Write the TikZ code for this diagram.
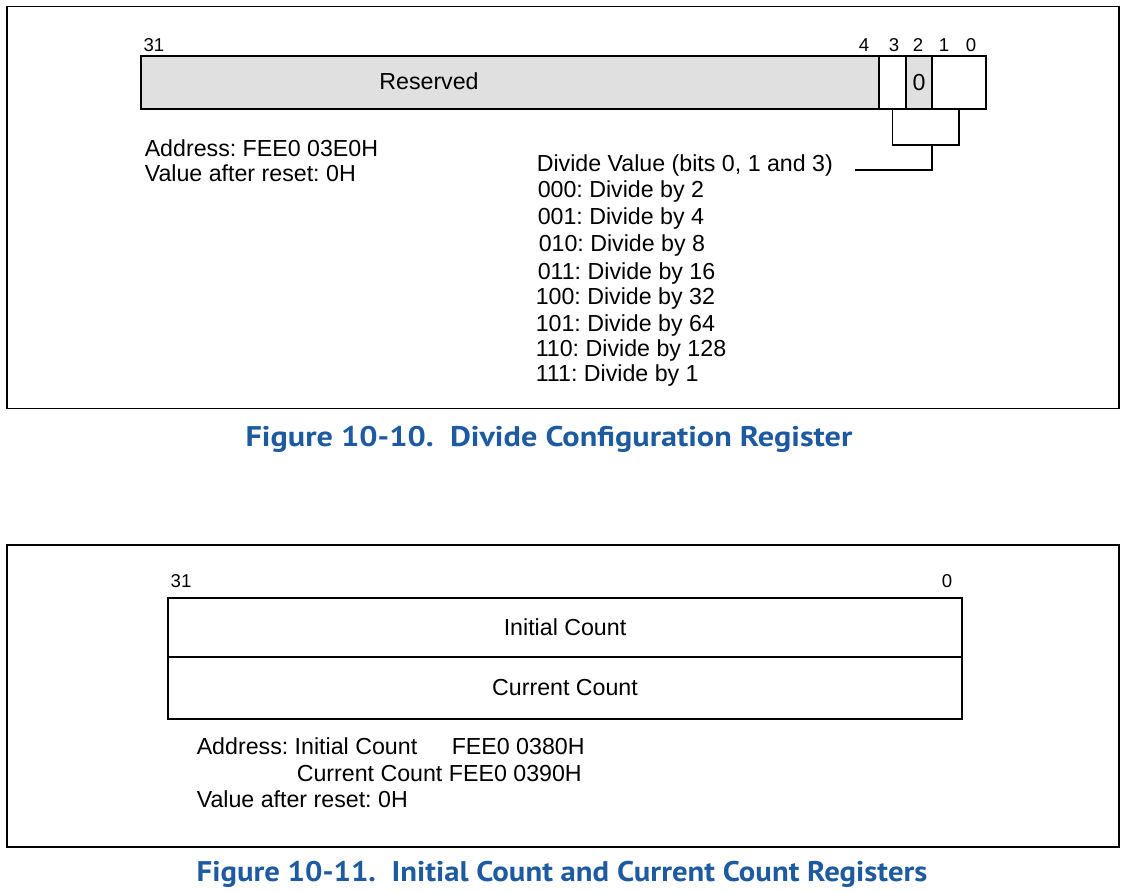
\documentclass[tikz,border=0pt]{standalone}
\usepackage{fontspec}
\setmainfont{Liberation Sans}
\newfontfamily\capfont{PT Sans}
\definecolor{capblue}{HTML}{1D5AA0}
\definecolor{resgray}{HTML}{E0E0E0}
\frenchspacing
\begin{document}
\begin{tikzpicture}[x=0.5pt,y=-0.5pt,
  line width=0.75pt,
  frame/.style={draw, line width=0.75pt},
  field/.style={draw, anchor=north west, inner sep=0pt, outer sep=0pt, font=\fontsize{11.6}{13}\selectfont},
  bitnum/.style={anchor=base, inner sep=0pt, font=\fontsize{9.3}{11}\selectfont},
  txt/.style={anchor=base west, inner sep=0pt, font=\fontsize{11.6}{13}\selectfont},
  caption/.style={anchor=base, inner sep=0pt, text=capblue, font=\capfont\bfseries\fontsize{14.2}{16}\selectfont}
]
\useasboundingbox (0,0) rectangle (1128,892);
% ---------- Figure 10-10 ----------
\node[frame, anchor=north west, minimum width=556pt, minimum height=201pt, inner sep=0pt] (box1) at (6,6) {};
\node[field, fill=resgray, minimum width=369pt, minimum height=26.5pt] (res) at (141,56) {};
\node[txt, anchor=base] (resl) at (429,90) {Reserved};
\node[field, minimum width=13.5pt, minimum height=26.5pt] (b3) at (879,56) {};
\node[field, fill=resgray, minimum width=13pt, minimum height=26.5pt] (b2) at (906,56) {0};
\node[field, minimum width=27pt, minimum height=26.5pt] (b10) at (932,56) {};
\node[bitnum] (n31) at (154,52) {31};
\node[bitnum] (n4) at (864,52) {4};
\node[bitnum] (n3) at (894,52) {3};
\node[bitnum] (n2) at (918,52) {2};
\node[bitnum] (n1) at (944,52) {1};
\node[bitnum] (n0) at (971,52) {0};
\coordinate (brL) at (893,145);
\coordinate (brR) at (960,145);
\coordinate (brM) at (932,145);
\coordinate (brEnd) at (855,170);
\draw (b3.south) -- (b3.south |- brL) -- (b10.south |- brR) -- (b10.south);
\draw (brM) |- (brEnd);
\node[txt] (addr1) at (144,157) {Address: FEE0 03E0H};
\node[txt] (reset1) at (144,182) {Value after reset: 0H};
\node[txt] (dv) at (536,172) {Divide Value (bits 0, 1 and 3)};
\node[txt] (d0) at (537,198) {000: Divide by 2};
\node[txt] (d1) at (537,225) {001: Divide by 4};
\node[txt] (d2) at (538,252) {010: Divide by 8};
\node[txt] (d3) at (537,280) {011: Divide by 16};
\node[txt] (d4) at (535,305) {100: Divide by 32};
\node[txt] (d5) at (535,332) {101: Divide by 64};
\node[txt] (d6) at (535,357) {110: Divide by 128};
\node[txt] (d7) at (535,382) {111: Divide by 1};
\node[caption] (cap1) at (549,446) {\scalebox{1.135}[1]{Figure 10-10.\ \ Divide Configuration Register}};
% ---------- Figure 10-11 ----------
\node[frame, anchor=north west, minimum width=556pt, minimum height=151pt, inner sep=0pt] (box2) at (6,544) {};
\node[field, minimum width=397pt, minimum height=29.5pt] (ic) at (168,598) {Initial Count};
\node[field, minimum width=397pt, minimum height=31pt] (cc) at (168,657) {Current Count};
\node[bitnum] (m31) at (181,587) {31};
\node[bitnum] (m0) at (947,587) {0};
\node[txt] (addr2) at (196,754) {Address: Initial Count};
\node[txt] (addr2b) at (451,754) {FEE0 0380H};
\node[txt] (addr2c) at (296,781) {Current Count FEE0 0390H};
\node[txt] (reset2) at (196,807) {Value after reset: 0H};
\node[caption] (cap2) at (562,881) {\scalebox{1.082}[1]{Figure 10-11.\ \ Initial Count and Current Count Registers}};
\end{tikzpicture}
\end{document}
